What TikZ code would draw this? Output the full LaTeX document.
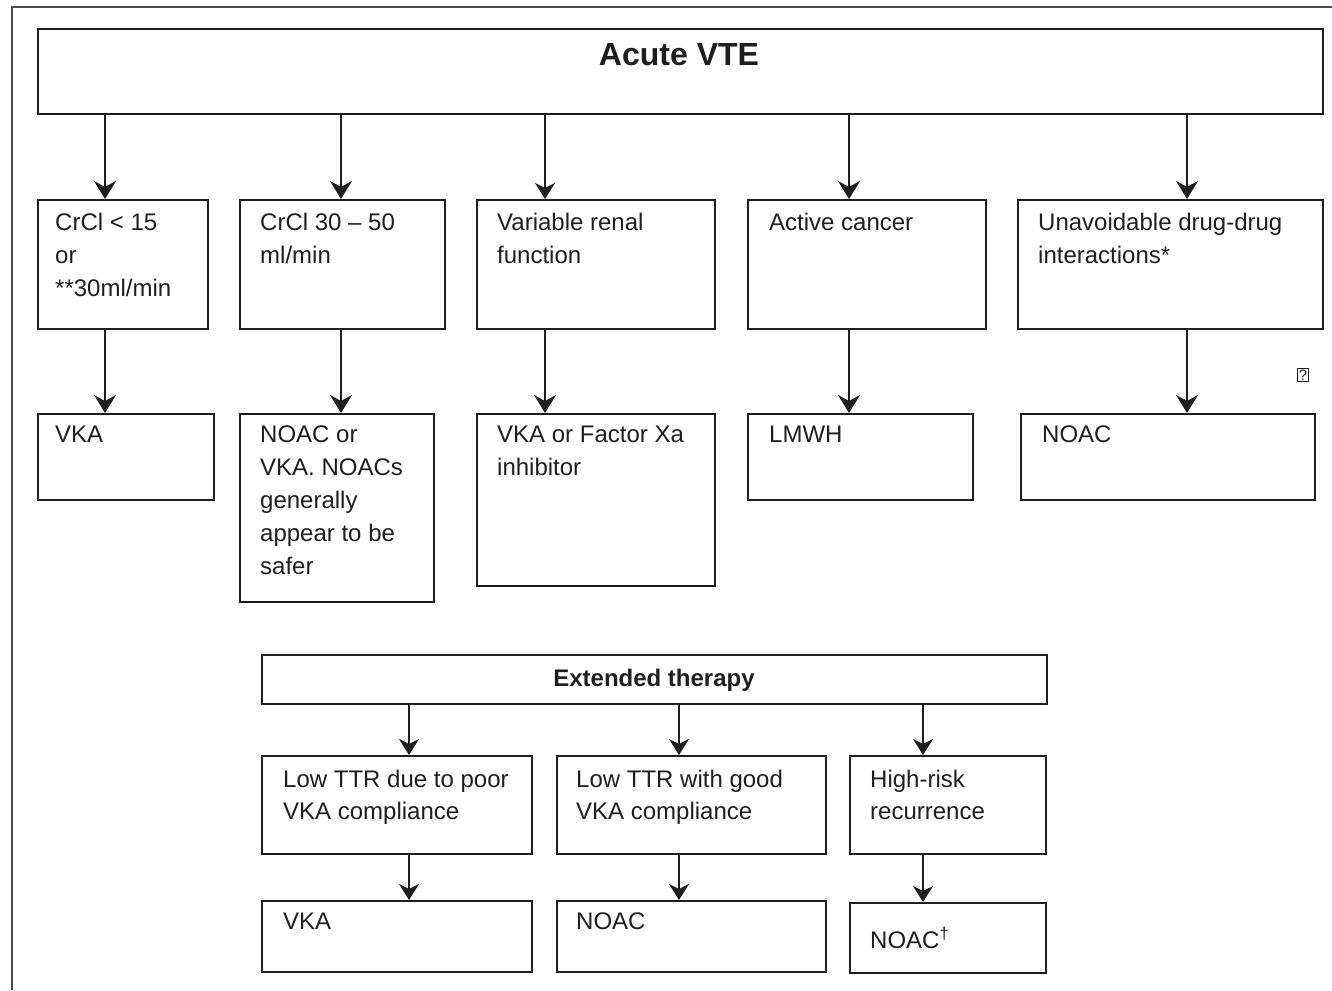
\documentclass[tikz,border=0pt]{standalone}
\usepackage{fontspec}
\setmainfont{Liberation Sans}
\usetikzlibrary{arrows.meta}
\definecolor{ink}{HTML}{1E1E1E}
\tikzset{
  box/.style={draw=ink, line width=2.2pt, inner sep=0pt, anchor=north west},
  txt/.style={anchor=north west, inner sep=0pt, align=left, text=ink,
    font=\fontsize{24}{33}\selectfont},
  arr/.style={-{Stealth[length=18pt,width=22pt,inset=6pt]}, line width=2.8pt, draw=ink},
  arrs/.style={-{Stealth[length=16pt,width=20pt,inset=5pt]}, line width=2.2pt, draw=ink},
  frame/.style={draw=black!70, line width=1.4pt},
}
\begin{document}
\begin{tikzpicture}[x=1pt,y=-1pt]
\useasboundingbox (0,0) rectangle (1332,990);
\draw[frame] (12,990) -- (12,7) -- (1332,7);

% top box
\node[box, line width=1.6pt, minimum width=1285pt, minimum height=85pt] (top) at (37,28) {};
\node[anchor=base, inner sep=0pt, text=ink, font=\fontsize{32}{38}\selectfont\bfseries] (toptxt) at (679,66) {Acute VTE};

% row 1
\node[box, minimum width=170pt, minimum height=129pt] (b1) at (37,199) {};
\node[box, minimum width=205pt, minimum height=129pt] (b2) at (239,199) {};
\node[box, minimum width=238pt, minimum height=129pt] (b3) at (476,199) {};
\node[box, minimum width=238pt, minimum height=129pt] (b4) at (747,199) {};
\node[box, minimum width=305pt, minimum height=129pt] (b5) at (1017,199) {};
\node[txt] (b1t) at (55,213) {CrCl < 15\\or\\**30ml/min};
\node[txt] (b2t) at (260,213) {CrCl 30 – 50\\ml/min};
\node[txt] (b3t) at (497,213) {Variable renal\\function};
\node[txt] (b4t) at (769,213) {Active cancer};
\node[txt] (b5t) at (1038,213) {Unavoidable drug-drug\\interactions*};

% row 2
\node[box, minimum width=176pt, minimum height=86pt] (c1) at (37,413) {};
\node[box, minimum width=194pt, minimum height=188pt] (c2) at (239,413) {};
\node[box, minimum width=238pt, minimum height=172pt] (c3) at (476,413) {};
\node[box, minimum width=225pt, minimum height=86pt] (c4) at (747,413) {};
\node[box, minimum width=294pt, minimum height=86pt] (c5) at (1020,413) {};
\node[txt] (c1t) at (55,426) {VKA};
\node[txt] (c2t) at (260,426) {NOAC or\\VKA. NOACs\\generally\\appear to be\\safer};
\node[txt] (c3t) at (497,426) {VKA or Factor Xa\\inhibitor};
\node[txt] (c4t) at (769,426) {LMWH};
\node[txt] (c5t) at (1042,426) {NOAC};

\node[draw=ink, line width=0.8pt, inner xsep=1.5pt, inner ysep=1pt, text=ink, font=\fontsize{15}{16}\selectfont] (qm) at (1303,375) {?};

% extended therapy
\node[box, minimum width=785pt, minimum height=49pt] (ext) at (261,654) {};
\node[anchor=base, inner sep=0pt, text=ink, font=\fontsize{24}{28}\selectfont\bfseries] (exttxt) at (654,686) {Extended therapy};

% row 3
\node[box, minimum width=270pt, minimum height=98pt] (d1) at (261,755) {};
\node[box, minimum width=269pt, minimum height=98pt] (d2) at (556,755) {};
\node[box, minimum width=196pt, minimum height=98pt] (d3) at (849,755) {};
\node[txt, font=\fontsize{24}{32}\selectfont] (d1t) at (283,770) {Low TTR due to poor\\VKA compliance};
\node[txt, font=\fontsize{24}{32}\selectfont] (d2t) at (576,770) {Low TTR with good\\VKA compliance};
\node[txt, font=\fontsize{24}{32}\selectfont] (d3t) at (870,770) {High-risk\\recurrence};

% row 4
\node[box, minimum width=270pt, minimum height=71pt] (e1) at (261,900) {};
\node[box, minimum width=269pt, minimum height=71pt] (e2) at (556,900) {};
\node[box, minimum width=196pt, minimum height=70pt] (e3) at (849,902) {};
\node[txt] (e1t) at (283,913) {VKA};
\node[txt] (e2t) at (576,913) {NOAC};
\node[txt] (e3t) at (870,927) {NOAC\textsuperscript{\dag}};

% arrow columns
\coordinate (x1) at (105,0);
\coordinate (x2) at (341,0);
\coordinate (x3) at (545,0);
\coordinate (x4) at (849,0);
\coordinate (x5) at (1187,0);
\coordinate (y1) at (409,0);
\coordinate (y2) at (679,0);
\coordinate (y3) at (923,0);

\draw[arr] (top.south -| x1) -- (b1.north -| x1);
\draw[arr] (top.south -| x2) -- (b2.north -| x2);
\draw[arrs] (top.south -| x3) -- (b3.north -| x3);
\draw[arr] (top.south -| x4) -- (b4.north -| x4);
\draw[arr] (top.south -| x5) -- (b5.north -| x5);

\draw[arr] (b1.south -| x1) -- (c1.north -| x1);
\draw[arr] (b2.south -| x2) -- (c2.north -| x2);
\draw[arr] (b3.south -| x3) -- (c3.north -| x3);
\draw[arr] (b4.south -| x4) -- (c4.north -| x4);
\draw[arr] (b5.south -| x5) -- (c5.north -| x5);

\draw[arrs] (ext.south -| y1) -- (d1.north -| y1);
\draw[arrs] (ext.south -| y2) -- (d2.north -| y2);
\draw[arrs] (ext.south -| y3) -- (d3.north -| y3);

\draw[arrs] (d1.south -| y1) -- (e1.north -| y1);
\draw[arrs] (d2.south -| y2) -- (e2.north -| y2);
\draw[arrs] (d3.south -| y3) -- (e3.north -| y3);
\end{tikzpicture}
\end{document}
